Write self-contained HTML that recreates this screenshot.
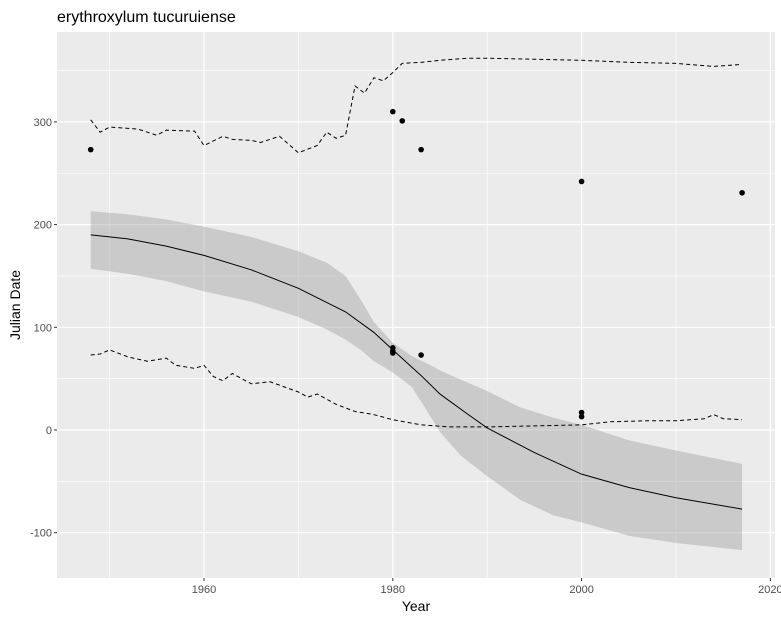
<!DOCTYPE html>
<html><head><meta charset="utf-8"><style>
body{margin:0;background:#fff;}
svg{display:block;font-family:"Liberation Sans",sans-serif;}
</style></head><body>
<svg id="chart" width="781" height="621"></svg>
<script>
const pointYears=[1948,1980,1981,1983,2000,2017,1980,1980,1980,1983,2000,2000];
const pointValues=[273,310,301,273,242,231,80,77,75,73,17,13];
const fitYears=[1948,1952,1956,1960,1965,1970,1975,1978,1980,1983,1985,1988,1990,1995,2000,2005,2010,2017];
const fitValues=[190,186,179,170,156,138,115,95,78,53,35,15,2,-22,-43,-56,-66,-77];
const ciYears=[1948,1952,1956,1960,1965,1970,1973,1975,1976.6,1978,1980,1982,1983.6,1985,1987.2,1990,1993.5,1997,2000,2005,2010,2017];
const upperCI=[213,210,205,198,188,174,163,150,127,105,85,72,65,58,49,38,22,12,5,-10,-20,-33];
const lowerCI=[157,152,145,135,125,110,98,88,78,67,56,42,19,-2,-25,-45,-68,-83,-90,-103,-110,-117];
const upYears=[1948,1949,1950,1953,1955,1956,1959,1960,1962,1963,1965,1966,1968,1970,1972,1973,1974,1975,1976,1977,1978,1979,1980,1981,1983,1985,1988,1990,1995,2000,2005,2010,2014,2017];
const upValues=[302,290,295,293,287,292,291,277,286,283,282,280,286,270,277,290,284,287,335,328,343,340,348,357,358,360,362,362,361,360,358,357,354,356];
const loYears=[1948,1949,1950,1952,1954,1956,1957,1959,1960,1961,1962,1963,1965,1967,1970,1971,1972,1974,1976,1978,1980,1983,1986,1990,1995,2000,2003,2007,2010,2013,2014,2015,2017];
const loValues=[73,74,78,71,67,70,63,60,63,52,48,55,45,47,37,32,35,25,18,15,10,5,3,3,4,5,8,9,9,11,15,11,10];
const xTicks=[1960,1980,2000,2020];
const yTicks=[-100,0,100,200,300];

const NS="http://www.w3.org/2000/svg";
const svg=document.getElementById('chart');
const L=57,R=775,T=32,B=578;
const x=v=>204+(v-1960)*9.44;
const y=v=>430-v*1.027;
function mk(tag,attrs,parent){const e=document.createElementNS(NS,tag);for(const k in attrs)e.setAttribute(k,attrs[k]);(parent||svg).appendChild(e);return e;}
const panel=mk('rect',{x:L,y:T,width:R-L,height:B-T,fill:'#ebebeb'});


for(let v=-150;v<=350;v+=100){const yy=y(v);if(yy>T&&yy<B){const g=mk('line',{x1:L,x2:R,y1:yy,y2:yy,stroke:'#fff','stroke-width':0.6});}}
for(let v=1950;v<=2010;v+=20){const g=mk('line',{x1:x(v),x2:x(v),y1:T,y2:B,stroke:'#fff','stroke-width':0.6});}
yTicks.forEach(v=>{const yy=y(v);
const g=mk('line',{x1:L,x2:R,y1:yy,y2:yy,stroke:'#fff','stroke-width':1.2});
const t=mk('line',{x1:L-3,x2:L,y1:yy,y2:yy,stroke:'#333'});
const l=mk('text',{x:L-5,y:yy+4,'text-anchor':'end','font-size':11,fill:'#4d4d4d'});l.textContent=v;});
xTicks.forEach(v=>{const xx=x(v);
const g=mk('line',{x1:xx,x2:xx,y1:T,y2:B,stroke:'#fff','stroke-width':1.2});
const t=mk('line',{x1:xx,x2:xx,y1:B,y2:B+3,stroke:'#333'});
const l=mk('text',{x:xx,y:B+15,'text-anchor':'middle','font-size':11,fill:'#4d4d4d'});l.textContent=v;});
let d='';ciYears.forEach((yr,i)=>{d+=(i?'L':'M')+x(yr)+','+y(upperCI[i]);});
for(let i=ciYears.length-1;i>=0;i--)d+='L'+x(ciYears[i])+','+y(lowerCI[i]);
const rib=mk('path',{d:d+'Z',fill:'#999','fill-opacity':0.4,'stroke-linejoin':'round'});


function line(xs,vs,dash,name){const p=mk('path',{d:xs.map((yr,i)=>(i?'L':'M')+x(yr)+','+y(vs[i])).join(''),fill:'none',stroke:'#000','stroke-width':1,'stroke-dasharray':dash});}
line(upYears,upValues,'4,3','upper-quantile-line');
line(loYears,loValues,'4,3','lower-quantile-line');
line(fitYears,fitValues,'none','fit-line');
pointYears.forEach((yr,i)=>{const c=mk('circle',{cx:x(yr),cy:y(pointValues[i]),r:2.8,fill:'#000'});});
const tt=mk('text',{x:L,y:22,'font-size':16,fill:'#000'});tt.textContent='erythroxylum tucuruiense';
const xt=mk('text',{x:(L+R)/2,y:611,'text-anchor':'middle','font-size':14,fill:'#000'});xt.textContent='Year';
const yt=mk('text',{x:20,y:(T+B)/2,'text-anchor':'middle','font-size':14,fill:'#000',transform:'rotate(-90 20 '+(T+B)/2+')'});yt.textContent='Julian Date';
</script>
</body></html>
